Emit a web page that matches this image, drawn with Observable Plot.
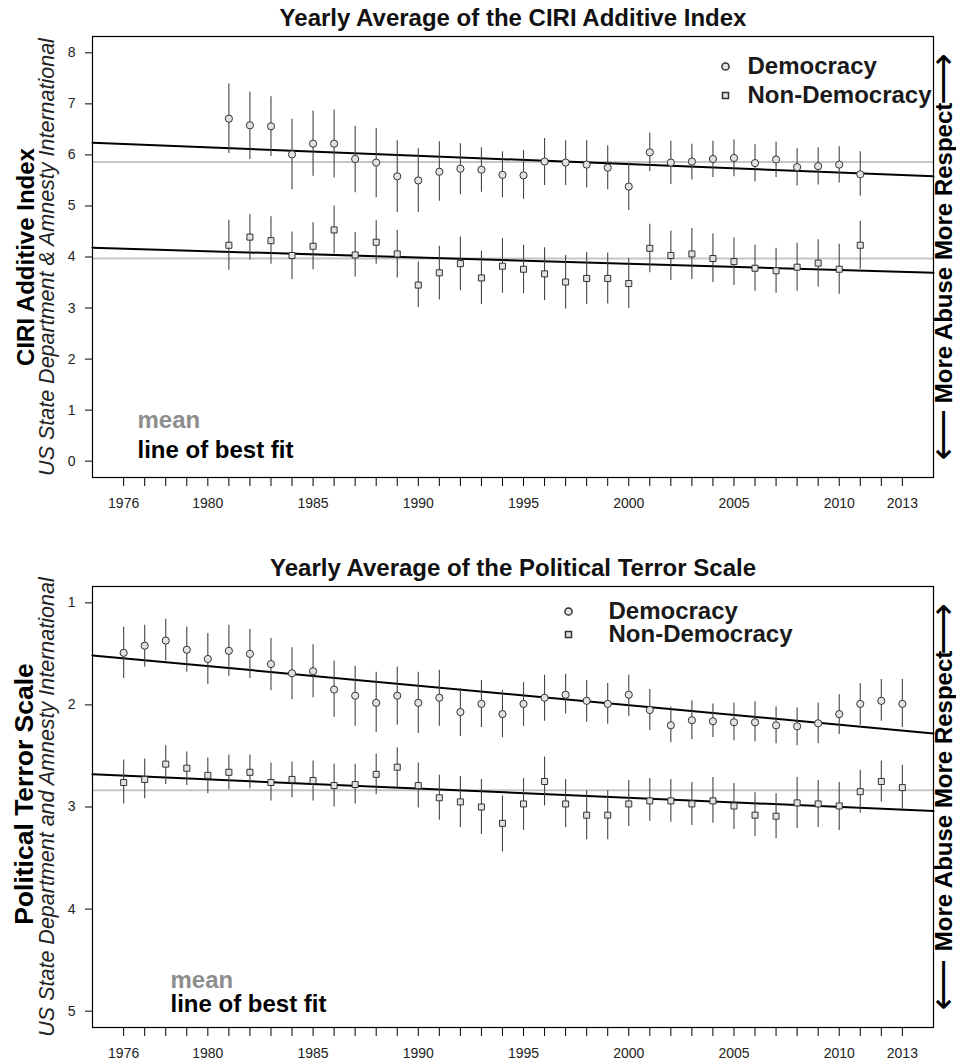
<!DOCTYPE html>
<html>
<head>
<meta charset="utf-8">
<script src="https://cdn.jsdelivr.net/npm/d3@7"></script>
<script src="https://cdn.jsdelivr.net/npm/@observablehq/plot@0.6"></script>
<style>
  body { margin: 0; background: #fff; }
  #chart svg { display: block; }
</style>
</head>
<body>
<div id="chart"></div>
<script>
// ---- Shared x axis: one tick per year, labels on selected years ----
const tickYears = [1976,1977,1978,1979,1980,1981,1982,1983,1984,1985,1986,1987,1988,1989,1990,
  1991,1992,1993,1994,1995,1996,1997,1998,1999,2000,2001,2002,2003,2004,2005,2006,2007,2008,2009,
  2010,2011,2012,2013];
const labelYears = [1976,1980,1985,1990,1995,2000,2005,2010,2013];

// ---- CIRI Additive Index (yearly mean with interval) ----
const ciriYears = [1981,1982,1983,1984,1985,1986,1987,1988,1989,1990,1991,1992,1993,1994,1995,
  1996,1997,1998,1999,2000,2001,2002,2003,2004,2005,2006,2007,2008,2009,2010,2011];
const ciriDem   = [6.71,6.58,6.56,6.01,6.22,6.22,5.92,5.85,5.58,5.50,5.67,5.73,5.71,5.61,5.60,
  5.87,5.85,5.81,5.75,5.38,6.05,5.85,5.87,5.92,5.94,5.84,5.91,5.76,5.78,5.81,5.62];
const ciriDemLo = [6.03,5.91,5.97,5.32,5.58,5.55,5.26,5.16,4.87,4.87,5.09,5.22,5.27,5.16,5.13,
  5.40,5.40,5.35,5.32,4.91,5.67,5.42,5.51,5.56,5.57,5.47,5.56,5.39,5.41,5.45,5.19];
const ciriDemHi = [7.39,7.23,7.14,6.70,6.86,6.88,6.56,6.52,6.28,6.12,6.26,6.22,6.14,6.06,6.09,
  6.32,6.28,6.28,6.18,5.84,6.43,6.27,6.21,6.27,6.29,6.20,6.25,6.12,6.14,6.16,6.06];
const ciriNon   = [4.23,4.39,4.32,4.03,4.21,4.53,4.04,4.29,4.06,3.45,3.69,3.87,3.59,3.82,3.76,
  3.67,3.51,3.58,3.58,3.48,4.17,4.03,4.06,3.97,3.91,3.78,3.73,3.80,3.88,3.76,4.23];
const ciriNonLo = [3.74,3.94,3.86,3.56,3.75,4.06,3.61,3.86,3.59,3.01,3.16,3.34,3.07,3.29,3.28,
  3.15,2.98,3.07,3.08,2.99,3.69,3.54,3.56,3.50,3.44,3.33,3.29,3.33,3.41,3.27,3.76];
const ciriNonHi = [4.72,4.83,4.79,4.49,4.67,5.00,4.48,4.71,4.52,3.90,4.21,4.39,4.12,4.36,4.23,
  4.18,4.03,4.09,4.08,3.97,4.64,4.51,4.56,4.45,4.37,4.23,4.17,4.27,4.34,4.25,4.70];
const ciriMeans  = [5.86, 3.97];          // overall means (Democracy, Non-Democracy)
const ciriFitDem = [6.24, 5.58];          // best-fit line at left / right plot edge
const ciriFitNon = [4.18, 3.69];
const ciriTicks  = [0,1,2,3,4,5,6,7,8];

// ---- Political Terror Scale (yearly mean with interval) ----
const ptsYears = tickYears;
const ptsDem   = [1.49,1.42,1.37,1.46,1.55,1.47,1.50,1.60,1.69,1.67,1.85,1.91,1.98,1.91,1.98,1.93,2.07,1.99,2.09,
  1.99,1.93,1.90,1.96,1.99,1.90,2.05,2.20,2.15,2.16,2.17,2.17,2.20,2.21,2.18,2.09,1.99,1.96,1.99];
const ptsDemLo = [1.24,1.22,1.16,1.24,1.30,1.22,1.26,1.35,1.44,1.41,1.57,1.62,1.68,1.63,1.68,1.66,1.84,1.76,1.86,
  1.78,1.71,1.70,1.76,1.79,1.71,1.85,2.02,1.96,1.99,1.98,1.97,2.02,2.03,1.98,1.90,1.79,1.75,1.75];
const ptsDemHi = [1.74,1.63,1.57,1.68,1.80,1.72,1.74,1.86,1.95,1.93,2.12,2.21,2.27,2.20,2.28,2.21,2.31,2.22,2.32,
  2.21,2.16,2.09,2.17,2.19,2.11,2.25,2.37,2.34,2.32,2.35,2.36,2.38,2.40,2.38,2.29,2.20,2.16,2.22];
const ptsNon   = [2.76,2.73,2.58,2.62,2.69,2.66,2.66,2.76,2.73,2.74,2.79,2.78,2.68,2.61,2.79,2.91,2.95,3.00,3.16,
  2.97,2.75,2.97,3.08,3.08,2.97,2.94,2.94,2.97,2.94,2.99,3.08,3.09,2.96,2.97,2.99,2.85,2.75,2.81];
const ptsNonLo = [2.54,2.53,2.40,2.46,2.52,2.49,2.49,2.57,2.56,2.55,2.58,2.58,2.48,2.42,2.57,2.69,2.70,2.73,2.89,
  2.72,2.51,2.73,2.84,2.84,2.74,2.72,2.73,2.76,2.71,2.77,2.86,2.87,2.71,2.74,2.76,2.64,2.55,2.59];
const ptsNonHi = [2.97,2.92,2.78,2.79,2.87,2.83,2.82,2.94,2.91,2.94,3.00,2.97,2.88,2.81,3.01,3.13,3.20,3.27,3.44,
  3.23,2.99,3.20,3.32,3.32,3.19,3.14,3.15,3.18,3.16,3.22,3.29,3.31,3.21,3.20,3.23,3.06,2.95,3.02];
const ptsMeans  = [2.835];
const ptsFitDem = [1.515, 2.28];
const ptsFitNon = [2.68, 3.04];
const ptsTicks  = [1,2,3,4,5];

const seriesNames = ["Democracy", "Non-Democracy"];
const FONT = "'Liberation Sans', Arial, Helvetica, sans-serif";

// pad a [min,max] range by 4% on each side
const padded = ([a, b]) => [a - 0.04 * (b - a), b + 0.04 * (b - a)];
const xDomain = padded([tickYears[0], tickYears[tickYears.length - 1]]);

function rows(years, v, lo, hi) {
  return years.map((year, i) => ({year, v: v[i], lo: lo[i], hi: hi[i]}));
}
function fitRows(ends) {
  return [{x: xDomain[0], y: ends[0]}, {x: xDomain[1], y: ends[1]}];
}

function panel(o) {
  const dem = rows(o.years, o.dem, o.demLo, o.demHi);
  const non = rows(o.years, o.non, o.nonLo, o.nonHi);
  const txt = {fontFamily: FONT, fontWeight: "bold", fontSize: 24};
  const arrow = {frameAnchor: "right", rotate: -90, dx: 10, textAnchor: "middle", lineAnchor: "middle",
    fontFamily: "'DejaVu Sans', sans-serif", fontSize: 36, fill: "#000"};
  return Plot.plot({
    width: 956,
    height: o.height,
    marginTop: o.marginTop,
    marginBottom: o.marginBottom,
    marginLeft: 92,
    marginRight: 23,
    style: {fontFamily: FONT, fontSize: "14px", color: "#000", background: "#fff"},
    x: {domain: xDomain},
    y: {domain: o.yDomain, reverse: o.reverse},
    marks: [
      Plot.ruleY(o.means, {stroke: "#c6c6c6", strokeWidth: 2}),
      Plot.line(fitRows(o.fitDem), {x: "x", y: "y", stroke: "#000", strokeWidth: 2}),
      Plot.line(fitRows(o.fitNon), {x: "x", y: "y", stroke: "#000", strokeWidth: 2}),
      Plot.ruleX(dem, {x: "year", y1: "lo", y2: "hi", stroke: "#444", strokeWidth: 1.1}),
      Plot.ruleX(non, {x: "year", y1: "lo", y2: "hi", stroke: "#444", strokeWidth: 1.1}),
      Plot.dot(dem, {x: "year", y: "v", symbol: "circle", r: 3.6, fill: "#e2e2e2", stroke: "#333", strokeWidth: 1}),
      Plot.dot(non, {x: "year", y: "v", symbol: "square", r: 3.4, fill: "#e2e2e2", stroke: "#333", strokeWidth: 1}),
      Plot.frame({stroke: "#000", strokeWidth: 1.2}),
      Plot.axisX({ticks: tickYears, tickFormat: d => labelYears.includes(d) ? String(d) : "",
        tickSize: 9, tickPadding: 12, fontSize: 14, label: null, fill: "#222"}),
      Plot.axisY({ticks: o.yTicks, tickFormat: d => String(d), tickSize: 7, tickPadding: 10,
        fontSize: 14, label: null, fill: "#222"}),
      // title
      Plot.text([o.title], {frameAnchor: "top", dy: -11, textAnchor: "middle", lineAnchor: "bottom", ...txt, fill: "#111"}),
      // left axis titles
      Plot.text([o.yLabel], {frameAnchor: "left", rotate: -90, dx: o.yLabelDx, dy: o.yLabelDy, textAnchor: "middle",
        lineAnchor: "bottom", ...txt, fontSize: o.yLabelSize, fill: "#000"}),
      Plot.text([o.ySource], {frameAnchor: "left", rotate: -90, dx: -39, textAnchor: "middle", lineAnchor: "bottom",
        fontFamily: FONT, fontStyle: "italic", fontSize: 21.5, fill: "#222"}),
      // right-hand direction label with arrows
      Plot.text(["More Abuse More Respect"], {frameAnchor: "right", rotate: -90, dx: 18, dy: o.sideDy,
        textAnchor: "middle", lineAnchor: "bottom", ...txt, fill: "#000"}),
      Plot.text(["\u27F6"], {...arrow, dy: -178}),
      Plot.text(["\u27F5"], {...arrow, dy: 178}),
      // legend
      Plot.dot([seriesNames[0]], {frameAnchor: "top-right", dx: o.key.dot, dy: o.key.row1, symbol: "circle", r: 3.6,
        fill: "#e2e2e2", stroke: "#333"}),
      Plot.dot([seriesNames[1]], {frameAnchor: "top-right", dx: o.key.dot, dy: o.key.row2, symbol: "square", r: 3.4,
        fill: "#e2e2e2", stroke: "#333"}),
      Plot.text([seriesNames[0]], {frameAnchor: "top-right", dx: o.key.text, dy: o.key.row1, textAnchor: "start",
        lineAnchor: "middle", ...txt, fill: "#1a1a1a"}),
      Plot.text([seriesNames[1]], {frameAnchor: "top-right", dx: o.key.text, dy: o.key.row2, textAnchor: "start",
        lineAnchor: "middle", ...txt, fill: "#1a1a1a"}),
      // line key
      Plot.text(["mean"], {frameAnchor: "bottom-left", dx: o.note.dx, dy: o.note.mean, textAnchor: "start",
        lineAnchor: "bottom", ...txt, fill: "#8e8e8e"}),
      Plot.text(["line of best fit"], {frameAnchor: "bottom-left", dx: o.note.dx, dy: o.note.fit, textAnchor: "start",
        lineAnchor: "bottom", ...txt, fill: "#000"})
    ]
  });
}

const chart = document.getElementById("chart");

chart.appendChild(panel({
  title: "Yearly Average of the CIRI Additive Index",
  yLabel: "CIRI Additive Index", yLabelSize: 24, yLabelDx: -59, yLabelDy: 0,
  ySource: "US State Department & Amnesty International",
  height: 530, marginTop: 36, marginBottom: 53,
  yDomain: padded([ciriTicks[0], ciriTicks[ciriTicks.length - 1]]), reverse: false, yTicks: ciriTicks,
  years: ciriYears,
  dem: ciriDem, demLo: ciriDemLo, demHi: ciriDemHi,
  non: ciriNon, nonLo: ciriNonLo, nonHi: ciriNonHi,
  means: ciriMeans, fitDem: ciriFitDem, fitNon: ciriFitNon,
  sideDy: -4,
  key: {dot: -208, text: -186, row1: 30, row2: 59},
  note: {dx: 45, mean: -50, fit: -20}
}));

chart.appendChild(panel({
  title: "Yearly Average of the Political Terror Scale",
  yLabel: "Political Terror Scale", yLabelSize: 26.5, yLabelDx: -60, yLabelDy: -13,
  ySource: "US State Department and Amnesty International",
  height: 534, marginTop: 56, marginBottom: 37,
  yDomain: padded([ptsTicks[0], ptsTicks[ptsTicks.length - 1]]), reverse: true, yTicks: ptsTicks,
  years: ptsYears,
  dem: ptsDem, demLo: ptsDemLo, demHi: ptsDemHi,
  non: ptsNon, nonLo: ptsNonLo, nonHi: ptsNonHi,
  means: ptsMeans, fitDem: ptsFitDem, fitNon: ptsFitNon,
  sideDy: -6,
  key: {dot: -365, text: -325, row1: 25, row2: 48},
  note: {dx: 78, mean: -40, fit: -16}
}));
</script>
</body>
</html>
